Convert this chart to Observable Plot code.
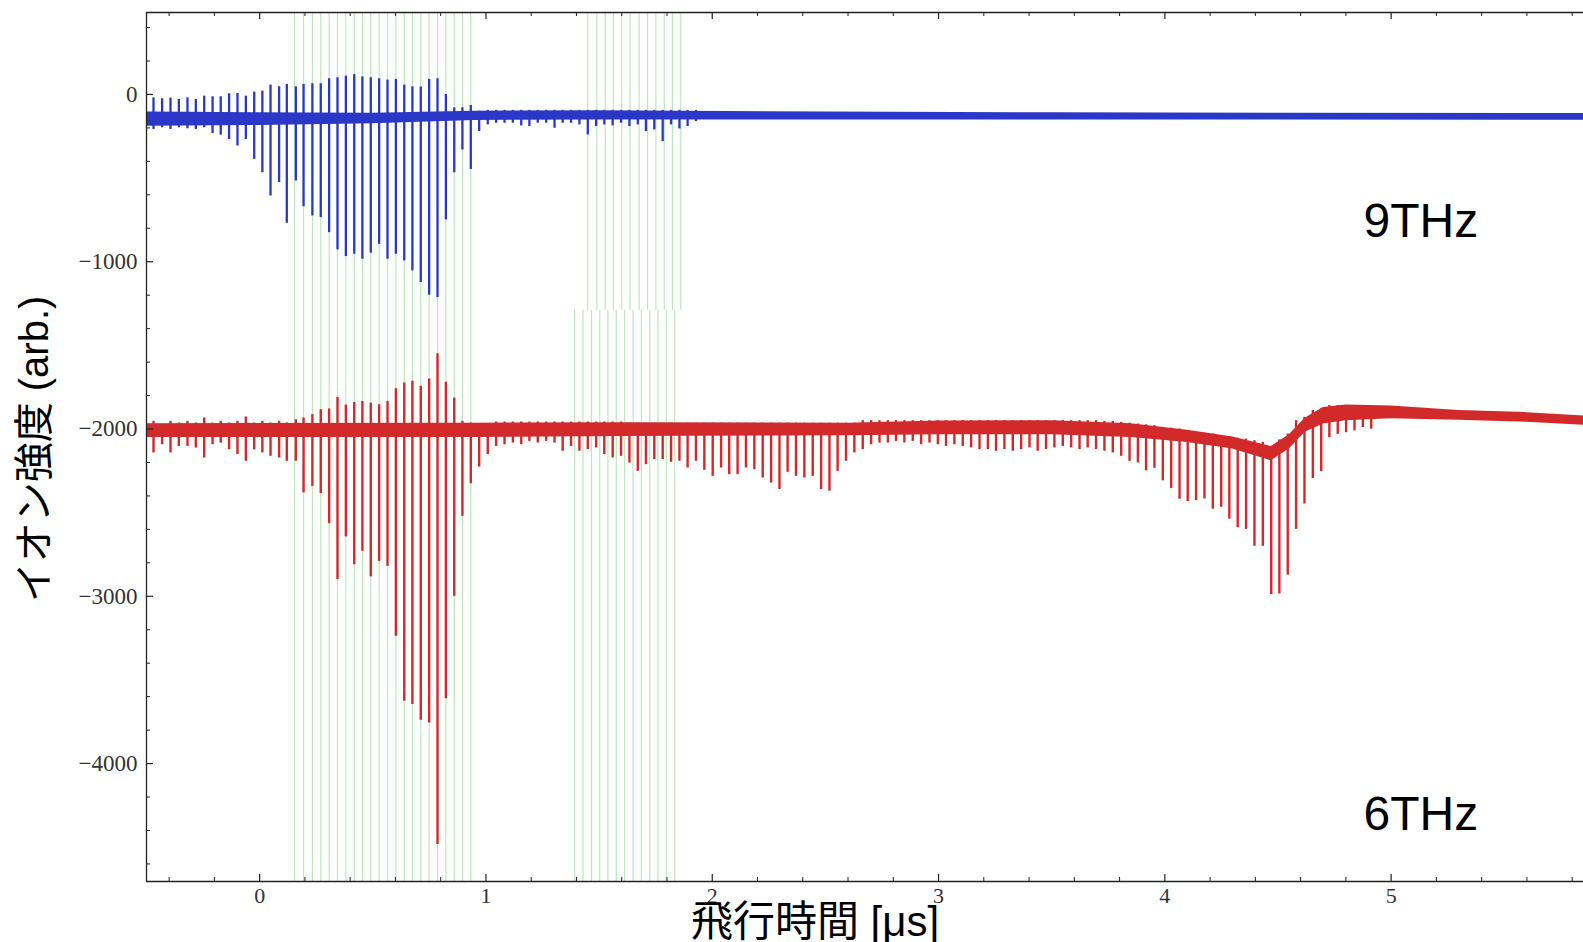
<!DOCTYPE html>
<html>
<head>
<meta charset="utf-8">
<script src="https://cdn.jsdelivr.net/npm/d3@7"></script>
<script src="https://cdn.jsdelivr.net/npm/@observablehq/plot@0.6"></script>
<style>
  html, body { margin: 0; padding: 0; background: #fff; }
  svg { display: block; }
</style>
</head>
<body>
<div id="chart"></div>
<script>
// ---- axis ranges and ticks (µs, arb.) ----
const xDomain = [-0.5, 5.85];
const yDomain = [-4705, 490];
const xMajorTicks = [0, 1, 2, 3, 4, 5];
const xMinorTicks = [-0.4,-0.2,0.2,0.4,0.6,0.8,1.2,1.4,1.6,1.8,2.2,2.4,2.6,2.8,3.2,3.4,3.6,3.8,4.2,4.4,4.6,4.8,5.2,5.4,5.6,5.8];
const yMajorTicks = [0, -1000, -2000, -3000, -4000];
const yMinorTicks = [400,200,-200,-400,-600,-800,-1200,-1400,-1600,-1800,-2200,-2400,-2600,-2800,-3200,-3400,-3600,-3800,-4200,-4400,-4600];

// ---- green marker lines (µs) ----
const greenGroup1 = [0.154,0.194,0.233,0.270,0.307,0.344,0.381,0.418,0.454,0.491,0.528,0.565,0.602,0.639,0.675,0.712,0.749,0.786,0.823,0.860,0.896,0.933];
const greenGroup2Upper = [1.450,1.490,1.527,1.563,1.600,1.637,1.677,1.714,1.751,1.788,1.824,1.861];
const greenGroup2Lower = [1.392,1.429,1.466,1.503,1.539,1.576,1.613,1.650,1.687,1.724,1.760,1.797,1.834];
const greenSplit = -1290;

// ---- 9THz (blue): noise band [x, hi, lo] and spikes [x, top, bottom] ----
const blueBand = [
  [-0.5,-105,-190],[0.0,-110,-185],[0.5,-112,-175],[0.95,-100,-155],[1.5,-98,-152],
  [2.5,-105,-152],[3.5,-110,-153],[4.5,-112,-153],[5.85,-114,-154]
];
const blueSpikes = [
  [-0.469,-20,-209],[-0.431,-26,-199],[-0.394,-22,-209],[-0.357,-30,-199],[-0.319,-20,-205],
  [-0.282,-30,-209],[-0.245,-10,-199],[-0.208,-14,-233],[-0.172,-14,-243],[-0.135,4,-269],
  [-0.098,6,-308],[-0.061,-10,-269],[-0.024,14,-388],[0.012,20,-468],[0.048,56,-607],
  [0.086,46,-527],[0.120,60,-770],[0.160,46,-517],[0.194,60,-671],[0.233,64,-726],
  [0.270,64,-736],[0.307,94,-826],[0.344,100,-929],[0.381,109,-969],[0.418,119,-955],
  [0.454,105,-985],[0.491,100,-949],[0.528,94,-896],[0.565,86,-985],[0.602,90,-955],
  [0.639,56,-995],[0.675,46,-1055],[0.712,44,-1124],[0.749,90,-1200],[0.786,94,-1214],
  [0.823,0,-750],[0.860,-80,-468],[0.896,-80,-332],[0.933,-66,-448],[0.970,-100,-222],
  [1.008,-95,-182],[1.045,-95,-172],[1.082,-95,-172],[1.119,-95,-172],[1.156,-95,-188],
  [1.192,-95,-192],[1.229,-95,-172],[1.266,-95,-172],[1.303,-95,-202],[1.339,-95,-172],
  [1.376,-95,-172],[1.413,-95,-182],[1.450,-95,-242],[1.487,-95,-192],[1.523,-95,-182],
  [1.560,-95,-188],[1.597,-95,-172],[1.634,-95,-192],[1.671,-95,-182],[1.707,-95,-222],
  [1.744,-95,-212],[1.781,-95,-282],[1.818,-95,-182],[1.855,-95,-206],[1.891,-95,-192],
  [1.928,-95,-162]
];

// ---- 6THz (red): noise band [x, hi, lo] and spikes/dips [x, top, bottom] ----
const redBand = [
  [-0.5,-1968,-2050],[0.95,-1965,-2050],[1.6,-1962,-2045],[2.6,-1965,-2040],[3.0,-1952,-2035],
  [3.5,-1950,-2035],[3.85,-1968,-2050],[4.1,-2008,-2080],[4.3,-2048,-2120],[4.47,-2105,-2190],
  [4.55,-2035,-2120],[4.62,-1935,-2020],[4.70,-1872,-1970],[4.80,-1857,-1950],[5.0,-1862,-1938],
  [5.3,-1890,-1948],[5.6,-1902,-1960],[5.85,-1922,-1978]
];
const redSpikes = [
  [-0.469,-1954,-2143],[-0.431,-1974,-2094],[-0.394,-1954,-2143],[-0.357,-1964,-2104],[-0.319,-1954,-2104],
  [-0.282,-1964,-2114],[-0.245,-1934,-2173],[-0.208,-1964,-2094],[-0.172,-1954,-2084],[-0.135,-1964,-2124],
  [-0.098,-1954,-2153],[-0.061,-1928,-2193],[-0.024,-1964,-2124],[0.012,-1954,-2143],[0.048,-1964,-2163],
  [0.086,-1954,-2173],[0.120,-1964,-2193],[0.160,-1944,-2193],[0.194,-1934,-2382],[0.233,-1914,-2343],
  [0.270,-1884,-2386],[0.307,-1880,-2566],[0.344,-1811,-2900],[0.381,-1857,-2645],[0.418,-1841,-2811],
  [0.454,-1835,-2731],[0.491,-1845,-2884],[0.528,-1855,-2791],[0.565,-1835,-2821],[0.602,-1759,-3239],
  [0.639,-1725,-3627],[0.675,-1715,-3647],[0.712,-1745,-3741],[0.749,-1701,-3757],[0.786,-1550,-4484],
  [0.823,-1721,-3612],[0.860,-1815,-3000],[0.896,-1954,-2522],[0.933,-1964,-2327],[0.970,-1974,-2228],
  [1.008,-1984,-2153],[1.045,-1958,-2104],[1.082,-1958,-2094],[1.119,-1958,-2084],[1.156,-1958,-2094],
  [1.192,-1958,-2074],[1.229,-1958,-2084],[1.266,-1958,-2074],[1.303,-1958,-2084],[1.339,-1958,-2133],
  [1.376,-1958,-2104],[1.413,-1958,-2133],[1.450,-1958,-2123],[1.487,-1958,-2113],[1.523,-1958,-2153],
  [1.560,-1958,-2173],[1.597,-1958,-2163],[1.634,-1965,-2203],[1.671,-1965,-2253],[1.707,-1965,-2213],
  [1.744,-1965,-2183],[1.781,-1965,-2183],[1.818,-1965,-2199],[1.855,-1965,-2193],[1.891,-1965,-2233],
  [1.928,-1965,-2193],[1.965,-1965,-2247],[2.002,-1965,-2283],[2.039,-1965,-2233],[2.075,-1965,-2273],
  [2.112,-1965,-2273],[2.149,-1965,-2233],[2.186,-1965,-2243],[2.223,-1965,-2293],[2.260,-1965,-2323],
  [2.297,-1965,-2362],[2.333,-1965,-2259],[2.370,-1965,-2283],[2.407,-1965,-2293],[2.444,-1965,-2283],
  [2.481,-1965,-2362],[2.518,-1965,-2372],[2.554,-1965,-2253],[2.591,-1965,-2193],[2.628,-1965,-2143],
  [2.665,-1950,-2123],[2.702,-1950,-2094],[2.739,-1950,-2084],[2.776,-1950,-2084],[2.812,-1950,-2074],
  [2.849,-1950,-2084],[2.886,-1950,-2074],[2.923,-1950,-2094],[2.960,-1950,-2084],[2.997,-1950,-2094],
  [3.033,-1950,-2104],[3.070,-1950,-2094],[3.107,-1950,-2104],[3.144,-1950,-2113],[3.181,-1950,-2123],
  [3.218,-1950,-2123],[3.254,-1950,-2133],[3.291,-1950,-2123],[3.328,-1950,-2133],[3.365,-1950,-2123],
  [3.402,-1950,-2113],[3.438,-1950,-2133],[3.475,-1950,-2123],[3.512,-1950,-2113],[3.549,-1950,-2104],
  [3.586,-1950,-2113],[3.623,-1950,-2123],[3.659,-1950,-2113],[3.696,-1950,-2123],[3.733,-1955,-2133],
  [3.770,-1955,-2143],[3.807,-1960,-2163],[3.844,-1965,-2193],[3.881,-1970,-2203],[3.917,-1975,-2250],
  [3.954,-1980,-2235],[3.991,-1990,-2310],[4.028,-1995,-2355],[4.065,-2000,-2420],[4.101,-2010,-2434],
  [4.138,-2020,-2428],[4.175,-2025,-2418],[4.212,-2030,-2479],[4.249,-2040,-2468],[4.285,-2045,-2539],
  [4.322,-2055,-2590],[4.359,-2060,-2600],[4.396,-2070,-2701],[4.433,-2080,-2701],[4.470,-2110,-2990],
  [4.506,-2065,-2986],[4.543,-2030,-2874],[4.580,-1950,-2600],[4.617,-1930,-2448],[4.654,-1889,-2296],
  [4.691,-1879,-2255],[4.727,-1860,-2052],[4.764,-1860,-2032],[4.801,-1860,-2022],[4.838,-1860,-2011],
  [4.875,-1860,-1991],[4.912,-1860,-2001]
];

// ---- labels ----
const yLabel = "イオン強度 (arb.)";
const xLabel = "飛行時間 [μs]";
const seriesLabels = ["9THz", "6THz"];

// ---- layout ----
const W = 1583, H = 942;
const mL = 146, mR = 0, mT = 12, mB = 61;
const FH = H - mT - mB, FW = W - mL - mR;

const blue = "#2b37c6";
const red = "#d22a2a";
const green = "#bfe6bf";
const ink = "#222";
const serif = "'Liberation Serif', 'DejaVu Serif', serif";
const sans = "'Liberation Sans', 'Noto Sans CJK JP', sans-serif";
const fmt = d => d < 0 ? "\u2212" + Math.abs(d) : String(d);

const chart = Plot.plot({
  width: W, height: H,
  marginLeft: mL, marginRight: mR, marginTop: mT, marginBottom: mB,
  x: {domain: xDomain},
  y: {domain: yDomain},
  style: {background: "#fff", overflow: "visible"},
  marks: [
    // green marker lines
    Plot.ruleX(greenGroup1, {x: d => d, stroke: green, strokeWidth: 1.2}),
    Plot.ruleX(greenGroup2Upper, {x: d => d, y1: greenSplit, y2: yDomain[1], stroke: green, strokeWidth: 1.2}),
    Plot.ruleX(greenGroup2Lower, {x: d => d, y1: yDomain[0], y2: greenSplit, stroke: green, strokeWidth: 1.2}),

    // 9THz trace
    Plot.areaY(blueBand, {x: d => d[0], y1: d => d[2], y2: d => d[1], fill: blue}),
    Plot.ruleX(blueSpikes, {x: d => d[0], y1: d => d[2], y2: d => d[1], stroke: blue, strokeWidth: 2.3}),

    // 6THz trace
    Plot.areaY(redBand, {x: d => d[0], y1: d => d[2], y2: d => d[1], fill: red}),
    Plot.ruleX(redSpikes, {x: d => d[0], y1: d => d[2], y2: d => d[1], stroke: red, strokeWidth: 2.4}),

    // frame (left, top, bottom)
    Plot.ruleX([xDomain[0]], {stroke: ink, strokeWidth: 1.3}),
    Plot.ruleY([yDomain[0], yDomain[1]], {stroke: ink, strokeWidth: 1.3}),

    // ticks pointing inwards
    Plot.ruleX(xMajorTicks, {x: d => d, insetTop: FH - 7, stroke: ink, strokeWidth: 1.2}),
    Plot.ruleX(xMinorTicks, {x: d => d, insetTop: FH - 4, stroke: ink, strokeWidth: 1}),
    Plot.ruleX(xMajorTicks, {x: d => d, insetBottom: FH - 7, stroke: ink, strokeWidth: 1.2}),
    Plot.ruleX(xMinorTicks, {x: d => d, insetBottom: FH - 4, stroke: ink, strokeWidth: 1}),
    Plot.ruleY(yMajorTicks, {y: d => d, insetRight: FW - 7, stroke: ink, strokeWidth: 1.2}),
    Plot.ruleY(yMinorTicks, {y: d => d, insetRight: FW - 4, stroke: ink, strokeWidth: 1}),

    // tick labels
    Plot.axisX({anchor: "bottom", ticks: xMajorTicks, tickSize: 0, tickPadding: 6,
      tickFormat: fmt, fontSize: 22, fontFamily: serif, fill: "#333", label: null}),
    Plot.axisY({anchor: "left", ticks: yMajorTicks, tickSize: 0, tickPadding: 9,
      tickFormat: fmt, fontSize: 23, fontFamily: serif, fill: "#333", label: null}),

    // axis titles
    Plot.text([yLabel], {text: d => d, frameAnchor: "left", dx: 35 - mL, dy: 2, rotate: -90,
      fontSize: 40, fontFamily: sans, fill: "#000", textAnchor: "middle", lineAnchor: "middle"}),
    Plot.text([xLabel], {text: d => d, frameAnchor: "bottom", dx: -50, dy: 54,
      fontSize: 42, fontFamily: sans, fill: "#000", textAnchor: "middle", lineAnchor: "bottom"}),

    // series labels
    Plot.text([seriesLabels[0]], {text: d => d, frameAnchor: "top-left", dx: 1363 - mL, dy: 236 - mT,
      fontSize: 48, fontFamily: sans, fill: "#000", textAnchor: "start", lineAnchor: "bottom"}),
    Plot.text([seriesLabels[1]], {text: d => d, frameAnchor: "top-left", dx: 1363 - mL, dy: 829 - mT,
      fontSize: 48, fontFamily: sans, fill: "#000", textAnchor: "start", lineAnchor: "bottom"})
  ]
});
document.getElementById("chart").appendChild(chart);
</script>
</body>
</html>
